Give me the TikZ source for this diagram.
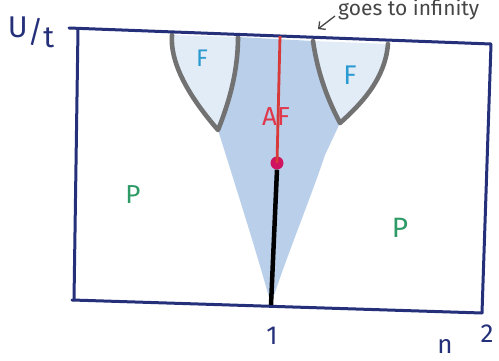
\documentclass[tikz,border=0pt]{standalone}
\usepackage{fontspec}
\setsansfont{Fira Sans}
\usetikzlibrary{arrows.meta}
\begin{document}
\begin{tikzpicture}[x=1pt,y=-1pt,
  frame/.style={draw=framec,line width=3pt,line cap=round,line join=round},
  bound/.style={draw=grayc,line width=4.6pt,line cap=round,line join=round},
  lab/.style={font=\sffamily,inner sep=0pt}]
\definecolor{framec}{HTML}{25307A}
\definecolor{grayc}{HTML}{727272}
\definecolor{ffill}{HTML}{E2ECF7}
\definecolor{affill}{HTML}{B9CFEA}
\definecolor{redc}{HTML}{D83A3A}
\definecolor{dotc}{HTML}{D0145F}
\definecolor{greenc}{HTML}{2E9A66}
\definecolor{cyanc}{HTML}{2A9AD0}
\definecolor{aflab}{HTML}{E0384A}
\definecolor{notec}{HTML}{454545}
\useasboundingbox (0,0) rectangle (499,361);
% F regions
\fill[ffill] (172,35) .. controls (170,60) and (185,92) .. (218,130)
  .. controls (230,100) and (238,70) .. (238,37) -- cycle;
\fill[ffill] (313,41) .. controls (318,75) and (328,100) .. (340,123)
  .. controls (360,105) and (385,80) .. (388,44) -- cycle;
% AF region
\fill[affill] (238,37) .. controls (238,70) and (230,100) .. (218,130)
  .. controls (240,200) and (262,270) .. (271,305)
  .. controls (285,260) and (310,200) .. (325,155) -- (340,123)
  .. controls (328,100) and (318,75) .. (313,41) -- cycle;
% gray boundaries
\draw[bound] (172,35) .. controls (170,60) and (185,92) .. (218,130)
  .. controls (230,100) and (238,70) .. (238,37);
\draw[bound] (313,41) .. controls (318,75) and (328,100) .. (340,123)
  .. controls (360,105) and (385,80) .. (388,44);
% frame
\coordinate (tl) at (78,29);
\coordinate (tr) at (491,44);
\coordinate (br) at (482,313);
\coordinate (bl) at (74,300);
\draw[frame] (69,28) -- (tr) -- (br);
\draw[frame] (tl) -- (bl);
\draw[frame] (72,300) -- (br);
% lines
\coordinate (rtop) at (280,36);
\coordinate (apex) at (271,305);
\node[circle,fill=dotc,minimum size=13pt,inner sep=0pt] (dot) at (277,163) {};
\draw[redc,line width=2.8pt] (rtop) -- (dot.center);
\draw[black,line width=4.5pt] (dot.south) -- (apex);
% labels
\node[lab,text=framec,font=\sffamily\fontsize{30}{30}\selectfont] (ut) at (31,32) {\raisebox{5pt}{U}/\raisebox{-5pt}{t}};
\node[lab,text=cyanc,font=\sffamily\fontsize{24}{24}\selectfont] (fl) at (202,58) {F};
\node[lab,text=cyanc,font=\sffamily\fontsize{27}{27}\selectfont] (fr) at (350,75) {F};
\node[lab,text=aflab,font=\sffamily\fontsize{26}{26}\selectfont] (af) at (276,117) {AF};
\node[lab,text=greenc,font=\sffamily\fontsize{26}{26}\selectfont] (pl) at (133,195) {P};
\node[lab,text=greenc,font=\sffamily\fontsize{28}{28}\selectfont] (pr) at (400,228) {P};
\node[lab,text=framec,font=\sffamily\fontsize{26}{26}\selectfont] (one) at (272,336) {1};
\node[lab,text=framec,font=\sffamily\fontsize{26}{26}\selectfont] (nn) at (445,346) {n};
\node[lab,text=framec,font=\sffamily\fontsize{26}{26}\selectfont] (two) at (487,334) {2};
\node[lab,text=notec,font=\sffamily\fontsize{21}{21}\selectfont,anchor=west] (note) at (338,10) {goes to infinity};
\coordinate (arrtip) at (318,29);
\draw[notec,line width=1.3pt,-{Straight Barb[length=5pt]}] (note.west) ++(-3,6) -- (arrtip);
\end{tikzpicture}
\end{document}
